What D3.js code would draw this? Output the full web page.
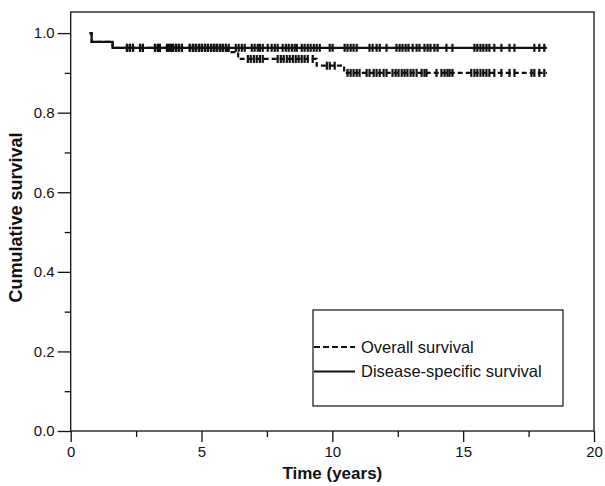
<!DOCTYPE html>
<html>
<head>
<meta charset="utf-8">
<title>Survival</title>
<script src="https://d3js.org/d3.v7.min.js"></script>
<style>
  body { margin: 0; background: #fff; }
  text { font-family: "Liberation Sans", Arial, sans-serif; fill: #111; }
</style>
</head>
<body>
<script>
  // step curves: time where each step starts, and survival value from there on
  const dssTimes = [0.72, 0.8, 1.6];
  const dssSurv = [1.0, 0.978, 0.963];
  const osTimes = [0.72, 0.8, 1.6, 6.0, 6.4, 9.4, 10.45];
  const osSurv = [1.0, 0.978, 0.963, 0.952, 0.935, 0.918, 0.9];
  const lastTime = 18.2;

  // censored times (tick marks)
  const dssCensor = [2.15, 2.26, 2.38, 2.65, 2.76, 3.22, 3.33, 3.41, 3.68, 3.75, 3.83, 3.91, 4.02, 4.13, 4.25,
    4.55, 4.67, 4.78, 4.9, 5.01, 5.13, 5.24, 5.36, 5.47, 5.58, 5.7, 5.81, 5.93, 6.04, 6.31, 6.42, 6.54, 6.65,
    6.92, 7.03, 7.15, 7.23, 7.34, 7.53, 7.68, 7.8, 7.91, 8.1, 8.22, 8.33, 8.45, 8.56, 8.64, 8.83, 8.94, 9.06,
    9.17, 9.29, 9.4, 9.52, 9.9, 10.01, 10.47, 10.58, 10.7, 10.81, 10.93, 11.42, 11.54, 11.69, 11.81, 12.07,
    12.45, 12.57, 12.68, 12.8, 12.91, 13.07, 13.22, 13.33, 13.52, 13.64, 13.75, 13.9, 14.02, 14.36, 14.59,
    15.43, 15.54, 15.66, 15.77, 15.89, 16.0, 16.19, 16.46, 16.77, 16.96, 17.72, 17.91, 18.1];
  const osCensor = [2.15, 2.26, 2.38, 2.65, 2.76, 3.22, 3.33, 3.41, 3.68, 3.75, 3.83, 3.91, 4.02, 4.13, 4.25,
    4.55, 4.67, 4.78, 4.9, 5.01, 5.13, 5.24, 5.36, 5.47, 5.58, 5.7, 5.81, 5.93,
    6.77, 6.88, 7.0, 7.11, 7.23, 7.34, 7.91, 8.03, 8.14, 8.26, 8.37, 8.49, 8.6, 8.71, 8.83, 8.94, 9.06, 9.25,
    9.79, 9.9, 10.09, 10.58, 10.7, 10.81, 10.93, 11.04, 11.31, 11.42, 11.58, 11.69, 11.81, 11.96, 12.07,
    12.3, 12.42, 12.53, 12.65, 12.76, 12.87, 12.99, 13.1, 13.22, 13.41, 13.52, 13.6, 13.98, 14.17, 14.29,
    14.4, 14.48, 14.59, 15.31, 15.43, 15.54, 15.66, 15.77, 15.89, 16.0, 16.19, 16.46, 16.77, 16.96, 17.61,
    17.72, 17.91, 18.1];

  const xTicks = [0, 5, 10, 15, 20];
  const xMinor = [2.5, 7.5, 12.5, 17.5];
  const yTicks = [0, 0.2, 0.4, 0.6, 0.8, 1.0];
  const yMinor = [0.1, 0.3, 0.5, 0.7, 0.9];
  const legendLabels = ['Overall survival', 'Disease-specific survival'];

  const W = 605, H = 486;
  const mLeft = 70.7, mRight = 594, mTop = 12, mBottom = 431;

  const x = d3.scaleLinear().domain([0, 20]).range([mLeft, mRight]);
  const y = d3.scaleLinear().domain([0, 1.053]).range([mBottom, mTop]);

  const svg = d3.select('body').append('svg')
    .attr('width', W)
    .attr('height', H);

  // minor ticks first, then major with labels
  svg.append('g')
    .attr('transform', `translate(0,${mBottom})`)
    .call(d3.axisBottom(x).tickValues(xMinor).tickSize(6).tickFormat(''));
  svg.append('g')
    .attr('transform', `translate(0,${mBottom})`)
    .call(d3.axisBottom(x).tickValues(xTicks).tickSize(11).tickPadding(4).tickFormat(d3.format('d')));
  svg.append('g')
    .attr('transform', `translate(${mLeft},0)`)
    .call(d3.axisLeft(y).tickValues(yMinor).tickSize(6).tickFormat(''));
  svg.append('g')
    .attr('transform', `translate(${mLeft},0)`)
    .call(d3.axisLeft(y).tickValues(yTicks).tickSize(13).tickPadding(3).tickFormat(d3.format('.1f')));

  svg.selectAll('.domain').remove();
  svg.selectAll('.tick line').attr('stroke', '#111').attr('stroke-width', 1.3);
  svg.selectAll('.tick text')
    .attr('font-size', 15)
    .attr('font-family', '"Liberation Sans", Arial, sans-serif')
    .attr('fill', '#222');

  // plot frame
  svg.append('rect')
    .attr('x', mLeft).attr('y', mTop)
    .attr('width', mRight - mLeft).attr('height', mBottom - mTop)
    .attr('fill', 'none').attr('stroke', '#111').attr('stroke-width', 1.3);

  // survival value at time t for a step curve
  const survAt = (times, surv, t) => {
    let v = surv[0];
    times.forEach((s, i) => { if (t >= s) v = surv[i]; });
    return v;
  };

  const stepLine = d3.line()
    .x(d => x(d[0]))
    .y(d => y(d[1]))
    .curve(d3.curveStepAfter);

  const curves = [
    { times: osTimes, surv: osSurv, censor: osCensor, dash: '5,3' },
    { times: dssTimes, surv: dssSurv, censor: dssCensor, dash: null },
  ];

  curves.forEach(c => {
    const pts = c.times.map((t, i) => [t, c.surv[i]]);
    pts.push([lastTime, c.surv[c.surv.length - 1]]);
    svg.append('path')
      .datum(pts)
      .attr('d', stepLine)
      .attr('fill', 'none')
      .attr('stroke', '#111')
      .attr('stroke-width', 2.2)
      .attr('stroke-dasharray', c.dash);

    svg.append('g').selectAll('line')
      .data(c.censor)
      .enter()
      .append('line')
      .attr('x1', d => x(d))
      .attr('x2', d => x(d))
      .attr('y1', d => y(survAt(c.times, c.surv, d)) - 4)
      .attr('y2', d => y(survAt(c.times, c.surv, d)) + 4)
      .attr('stroke', '#111')
      .attr('stroke-width', 2.2);
  });

  // axis titles
  svg.append('text')
    .attr('x', (mLeft + mRight) / 2)
    .attr('y', 479)
    .attr('text-anchor', 'middle')
    .attr('font-size', 17)
    .attr('font-weight', 'bold')
    .text('Time (years)');

  svg.append('text')
    .attr('transform', `translate(22,${(mTop + mBottom) / 2 - 4}) rotate(-90)`)
    .attr('text-anchor', 'middle')
    .attr('font-size', 18)
    .attr('font-weight', 'bold')
    .text('Cumulative survival');

  // legend
  const lg = svg.append('g');
  lg.append('rect')
    .attr('x', 313).attr('y', 310)
    .attr('width', 250).attr('height', 96)
    .attr('fill', '#fff').attr('stroke', '#111').attr('stroke-width', 1.2);

  lg.selectAll('g.item')
    .data(legendLabels)
    .enter()
    .append('g')
    .attr('class', 'item')
    .attr('transform', (d, i) => `translate(0,${347 + i * 24.5})`)
    .each(function(d, i) {
      const g = d3.select(this);
      g.append('line')
        .attr('x1', 314).attr('x2', 355)
        .attr('stroke', '#111').attr('stroke-width', 2)
        .attr('stroke-dasharray', i === 0 ? '6,3' : null);
      g.append('text')
        .attr('x', 361)
        .attr('dy', '0.35em')
        .attr('font-size', 16.5)
        .text(d);
    });
</script>
</body>
</html>
